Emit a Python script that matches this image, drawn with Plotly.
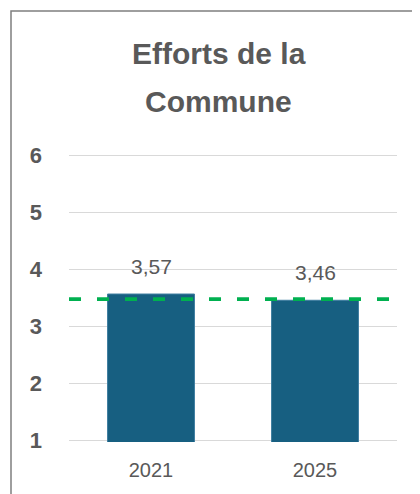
import plotly.graph_objects as go

categories = ["2021", "2025"]
values = [3.57, 3.46]
value_labels = ["3,57", "3,46"]
reference_value = 3.48
title_lines = ["Efforts de la", "Commune"]
y_ticks = [1, 2, 3, 4, 5, 6]

OFF = 8  # page body margin
W, H = 420 - OFF, 494 - OFF
ML, MR, MT, MB = 61, 23, 146, 52
pw = W - ML - MR
ph = H - MT - MB
FONT = "Liberation Sans, Arial"

fig = go.Figure()
fig.add_trace(go.Bar(
    x=categories, y=values, width=0.53,
    marker=dict(color="#175F81", line=dict(color="#3F7EA0", width=1)),
    hoverinfo="skip", showlegend=False,
))

for i, (v, t) in enumerate(zip(values, value_labels)):
    fig.add_annotation(x=i, y=v, text=t, showarrow=False, yanchor="bottom",
                       yshift=14, font=dict(family=FONT, size=21, color="#595959"))

fig.add_shape(type="line", xref="paper", x0=0, x1=1, yref="y", y0=reference_value, y1=reference_value,
              line=dict(color="#00B050", width=3.6, dash="12px,16px"), layer="above")

def px2x(p):
    return (p - OFF - ML) / pw
def py2y(p):
    return (H - MB - (p - OFF)) / ph

fig.add_shape(type="rect", xref="paper", yref="paper",
              x0=px2x(11), x1=px2x(430), y0=py2y(11), y1=py2y(510),
              line=dict(color="#7F7F7F", width=1.5), layer="below")

cx = px2x(218.5)
fig.add_annotation(xref="paper", yref="paper", x=cx, y=py2y(53), text="<b>%s</b>" % title_lines[0],
                   showarrow=False, xanchor="center", yanchor="middle",
                   font=dict(family=FONT, size=30, color="#595959"))
fig.add_annotation(xref="paper", yref="paper", x=cx, y=py2y(101), text="<b>%s</b>" % title_lines[1],
                   showarrow=False, xanchor="center", yanchor="middle",
                   font=dict(family=FONT, size=30, color="#595959"))

fig.update_layout(
    width=W, height=H, margin=dict(l=ML, r=MR, t=MT, b=MB, pad=0),
    paper_bgcolor="white", plot_bgcolor="white",
    xaxis=dict(type="category", range=[-0.5, 1.5], showgrid=False, showline=False, zeroline=False, ticks="",
               tickfont=dict(family=FONT, size=20, color="#595959"),
               ticklabelstandoff=14),
    yaxis=dict(range=[0.97, 6.03], tickvals=y_ticks, ticktext=[str(v) for v in y_ticks],
               showgrid=True, gridcolor="#D9D9D9", gridwidth=1.3, zeroline=False, showline=False,
               ticks="", tickfont=dict(family=FONT, size=22, color="#595959", weight="bold"),
               ticklabelstandoff=26),
)
fig.write_html("out.html")
